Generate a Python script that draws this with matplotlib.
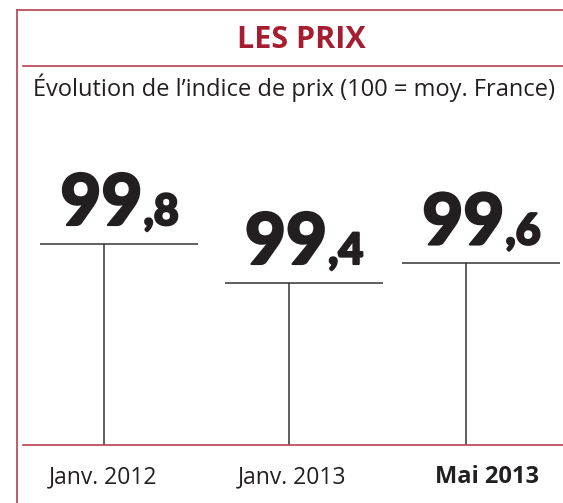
import matplotlib
matplotlib.use('Agg')
import matplotlib.pyplot as plt
import matplotlib.transforms as mtransforms
import matplotlib.patheffects as pe

# data
periods = ['Janv. 2012', 'Janv. 2013', 'Mai 2013']
values = [99.8, 99.4, 99.6]
bold_label = [False, False, True]

title = 'LES PRIX'
subtitle = 'Évolution de l\u2019indice de prix (100 = moy. France)'

RED = '#a51d30'
LINE_RED = '#b8404f'
INK = '#231f20'
NUM_FONT = 'Lato'

fig = plt.figure(figsize=(5.63, 5.03), dpi=100)

# frame layer in pixel coords (y down)
frame = fig.add_axes([0, 0, 1, 1])
frame.set_xlim(0, 563)
frame.set_ylim(503, 0)
frame.axis('off')
frame.plot([17, 563], [10, 10], color=LINE_RED, lw=1.2)
frame.plot([17, 17], [10, 503], color=LINE_RED, lw=1.2)
frame.plot([23, 563], [66, 66], color=LINE_RED, lw=1.2)

frame.text(301, 40, title, ha='center', va='center', fontsize=22,
           fontweight='bold', color=RED, family='Open Sans')
frame.text(33, 96, subtitle, ha='left', va='baseline', fontsize=17,
           color=INK, family='Open Sans')

# chart layer: x = period slot, y = index value
ax = fig.add_axes([23 / 563, 58 / 503, 540 / 563, 315 / 503])
ax.set_xlim(-0.4475, 2.536)
ax.set_ylim(97.738, 100.969)
ax.patch.set_alpha(0)
for s in ['top', 'left', 'right']:
    ax.spines[s].set_visible(False)
ax.spines['bottom'].set_color(LINE_RED)
ax.spines['bottom'].set_linewidth(1.2)
ax.set_xticks([])
ax.set_yticks([])

xs = [0, 1.02, 2]  # column slots
base = ax.get_ylim()[0]
ax.vlines(xs, base, values, color='#333333', lw=1.1)
ax.hlines(values, [x - 0.354 for x in xs], [x + 0.519 for x in xs],
          color='#333333', lw=1.1)

# value labels: big integer part + small decimal part
heavy = [pe.withStroke(linewidth=1.6, foreground=INK)]
renderer = fig.canvas.get_renderer()
for x, v in zip(xs, values):
    whole, dec = f'{v:.1f}'.split('.')
    xc = x + 0.0825
    big = ax.text(xc, v, whole, ha='right', va='baseline', fontsize=51,
                  fontweight='black', color=INK, family=NUM_FONT,
                  path_effects=heavy)
    small = ax.text(xc, v, ',' + dec, ha='left', va='baseline', fontsize=31,
                    fontweight='black', color=INK, family=NUM_FONT,
                    path_effects=heavy)
    wb = big.get_window_extent(renderer).width
    ws = small.get_window_extent(renderer).width
    shift = (wb - ws) / 2
    big.set_transform(mtransforms.offset_copy(ax.transData, fig, x=shift, y=19, units='dots'))
    small.set_transform(mtransforms.offset_copy(ax.transData, fig, x=shift + 1, y=19, units='dots'))

# period labels under the baseline
label_dx = [-1, 3, 21]
for x, lab, b, dx in zip(xs, periods, bold_label, label_dx):
    tr = mtransforms.offset_copy(ax.get_xaxis_transform(), fig, x=dx, y=-38, units='dots')
    ax.text(x, 0, lab, transform=tr, ha='center', va='baseline',
            fontsize=17 if b else 16.5,
            fontweight='bold' if b else 'normal', color=INK, family='Open Sans')

fig.savefig('out.png', dpi=100)
